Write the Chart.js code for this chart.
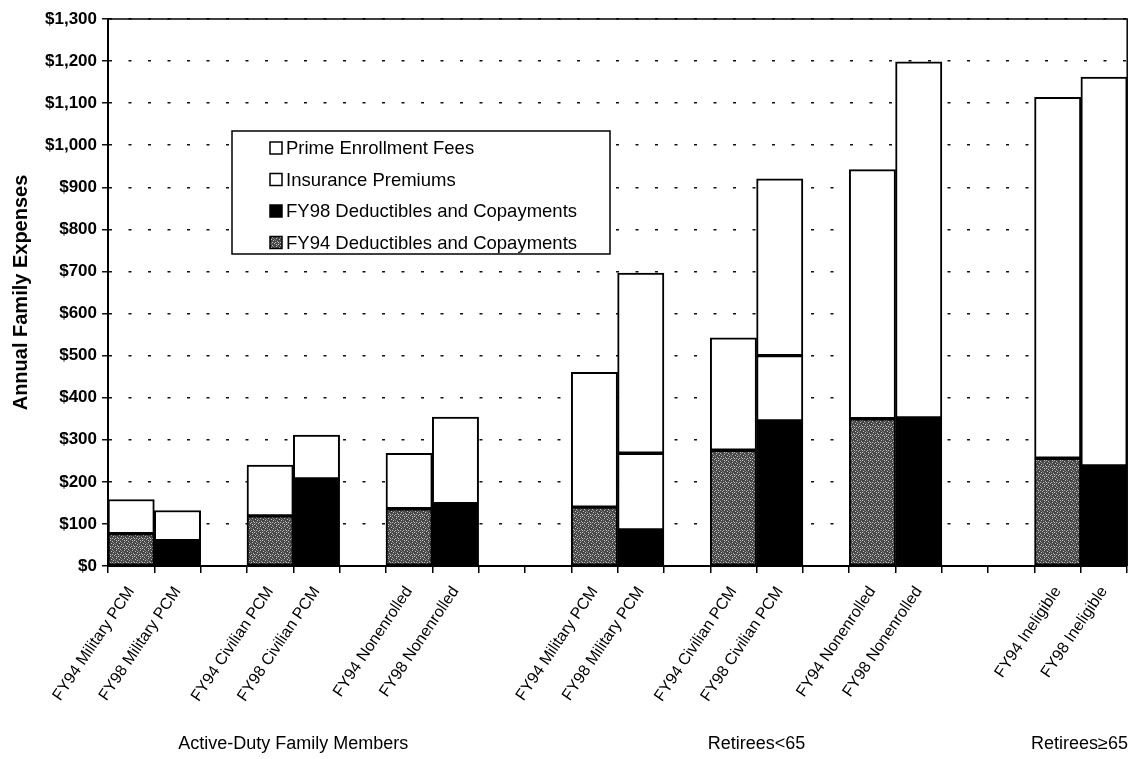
<!DOCTYPE html>
<html>
<head>
<meta charset="utf-8">
<title>Annual Family Expenses</title>
<script src="https://cdn.jsdelivr.net/npm/chart.js@4.4.1/dist/chart.umd.min.js"></script>
<style>
    html, body { margin: 0; padding: 0; background: #fff; }
    #wrap { width: 1130px; height: 759px; }
</style>
</head>
<body>
<div id="wrap"><canvas id="expenseChart" width="1130" height="759"></canvas></div>
<script>
// empty labels are the gaps between the beneficiary groups
const categories = [
    'FY94 Military PCM', 'FY98 Military PCM', '',
    'FY94 Civilian PCM', 'FY98 Civilian PCM', '',
    'FY94 Nonenrolled', 'FY98 Nonenrolled', '', '',
    'FY94 Military PCM', 'FY98 Military PCM', '',
    'FY94 Civilian PCM', 'FY98 Civilian PCM', '',
    'FY94 Nonenrolled', 'FY98 Nonenrolled', '', '',
    'FY94 Ineligible', 'FY98 Ineligible',
];

const fy94Deductibles = [77, null, null, 119, null, null, 136, null, null, null, 140, null, null, 275, null, null, 350, null, null, null, 256, null];
const fy98Deductibles = [null, 60, null, null, 207, null, null, 148, null, null, null, 86, null, null, 345, null, null, 352, null, null, null, 238];
const insurancePremiums = [81, 72, null, 121, 104, null, 132, 206, null, null, 320, 182, null, 267, 155, null, 592, 846, null, null, 858, 924];
const primeEnrollmentFees = [null, null, null, null, null, null, null, null, null, null, null, 428, null, null, 420, null, null, null, null, null, null, null];

const yMax = 1300;
const yStep = 100;

const groups = [
    { label: 'Active-Duty Family Members', from: 0, to: 7 },
    { label: 'Retirees<65', from: 10, to: 17 },
    { label: 'Retirees\u226565', from: 20, to: 21 },
];

const FONT = '"Liberation Sans", Arial, Helvetica, sans-serif';

const makeStipple = () => {
    const tile = document.createElement('canvas');
    tile.width = 8;
    tile.height = 8;
    const g = tile.getContext('2d');
    g.fillStyle = '#474747';
    g.fillRect(0, 0, 8, 8);
    g.fillStyle = '#c4c4c4';
    [[1, 0], [5, 1], [3, 2], [2, 3], [6, 4], [0, 5], [4, 6], [7, 7], [6, 2], [0, 2], [4, 4]].forEach(([x, y]) => g.fillRect(x, y, 1, 1));
    g.fillStyle = '#7a7a7a';
    [[3, 0], [7, 3], [1, 6], [5, 5], [2, 7]].forEach(([x, y]) => g.fillRect(x, y, 1, 1));
    return g.createPattern(tile, 'repeat');
};

const stipple = makeStipple();

const seriesStyle = (label, data, fill) => ({
    label,
    data,
    backgroundColor: fill,
    borderColor: '#000',
    borderWidth: 2,
    borderSkipped: false,
    stack: 'costs',
    barPercentage: 1,
    categoryPercentage: 1,
});

const datasets = [
    seriesStyle('FY94 Deductibles and Copayments', fy94Deductibles, stipple),
    seriesStyle('FY98 Deductibles and Copayments', fy98Deductibles, '#000'),
    seriesStyle('Insurance Premiums', insurancePremiums, '#fff'),
    seriesStyle('Prime Enrollment Fees', primeEnrollmentFees, '#fff'),
];

// legend box sits inside the plot, listed top of stack first
const legendBox = {
    id: 'legendBox',
    afterDraw(chart) {
        const { ctx } = chart;
        const box = { x: 232, y: 131, w: 378, h: 123 };
        ctx.save();
        ctx.fillStyle = '#fff';
        ctx.fillRect(box.x, box.y, box.w, box.h);
        ctx.lineWidth = 1.5;
        ctx.strokeStyle = '#000';
        ctx.strokeRect(box.x, box.y, box.w, box.h);

        const rows = [...chart.data.datasets].reverse();
        ctx.font = `18.5px ${FONT}`;
        ctx.textBaseline = 'middle';
        ctx.textAlign = 'left';
        rows.forEach((ds, i) => {
            const cy = box.y + 17 + i * 31.5;
            ctx.fillStyle = ds.backgroundColor;
            ctx.fillRect(270, cy - 6, 12, 12);
            ctx.lineWidth = 1.5;
            ctx.strokeStyle = '#000';
            ctx.strokeRect(270, cy - 6, 12, 12);
            ctx.fillStyle = '#000';
            ctx.fillText(ds.label, 286, cy + 1);
        });
        ctx.restore();
    },
};

const frameAndGroups = {
    id: 'frameAndGroups',
    afterDraw(chart) {
        const { ctx, chartArea, scales } = chart;
        ctx.save();
        ctx.strokeStyle = '#000';
        ctx.lineWidth = 1.5;
        ctx.beginPath();
        ctx.moveTo(chartArea.left, chartArea.top);
        ctx.lineTo(chartArea.right, chartArea.top);
        ctx.lineTo(chartArea.right, chartArea.bottom);
        ctx.stroke();

        ctx.font = `18px ${FONT}`;
        ctx.fillStyle = '#000';
        ctx.textAlign = 'center';
        ctx.textBaseline = 'middle';
        groups.forEach((group) => {
            let cx = (scales.x.getPixelForValue(group.from) + scales.x.getPixelForValue(group.to)) / 2;
            const half = ctx.measureText(group.label).width / 2;
            cx = Math.min(cx, chart.width - half - 2);
            ctx.fillText(group.label, cx, 744);
        });
        ctx.restore();
    },
};

new Chart(document.getElementById('expenseChart'), {
    type: 'bar',
    data: { labels: categories, datasets },
    options: {
        responsive: false,
        animation: false,
        devicePixelRatio: 1,
        layout: { padding: { top: 19, right: 2, left: 0, bottom: 0 } },
        plugins: {
            legend: { display: false },
            tooltip: { enabled: false },
        },
        scales: {
            x: {
                stacked: true,
                afterFit: (scale) => { scale.height = 193; },
                grid: {
                    offset: true,
                    drawOnChartArea: false,
                    color: '#000',
                    lineWidth: 1.5,
                    tickLength: 7,
                },
                border: { color: '#000', width: 2 },
                ticks: {
                    autoSkip: false,
                    maxRotation: 56,
                    minRotation: 56,
                    padding: 10,
                    color: '#000',
                    font: { family: FONT, size: 16 },
                },
            },
            y: {
                stacked: true,
                min: 0,
                max: yMax,
                afterFit: (scale) => { scale.width = 108; },
                grid: {
                    color: '#111',
                    lineWidth: 1.5,
                    tickLength: 6,
                },
                border: { color: '#000', width: 2, dash: [3, 16.5] },
                ticks: {
                    stepSize: yStep,
                    padding: 5,
                    color: '#000',
                    font: { family: FONT, size: 17, weight: 'bold' },
                    callback: (value) => '$' + Number(value).toLocaleString('en-US'),
                },
                title: {
                    display: true,
                    text: 'Annual Family Expenses',
                    color: '#000',
                    padding: { top: 9, bottom: 0 },
                    font: { family: FONT, size: 20, weight: 'bold' },
                },
            },
        },
    },
    plugins: [legendBox, frameAndGroups],
});
</script>
</body>
</html>
